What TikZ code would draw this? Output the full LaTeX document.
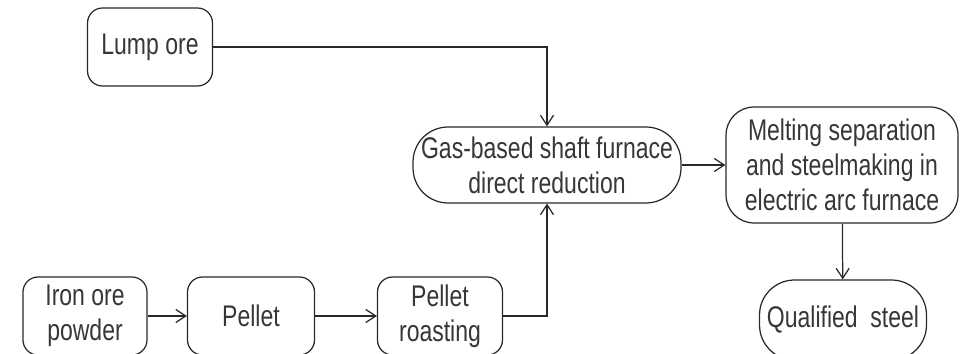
\documentclass[tikz,border=0pt]{standalone}
\usepackage{fontspec}
\setmainfont{Liberation Sans}[FakeStretch=0.77]
\usetikzlibrary{arrows.meta,positioning,calc}
\definecolor{boxline}{RGB}{40,40,40}
\definecolor{boxtext}{RGB}{55,55,55}
\tikzset{
  stage/.style={draw=boxline, fill=white, rounded corners=3mm, line width=0.7pt,
    minimum width=25mm, minimum height=15.6mm, align=center, inner sep=1pt, text=boxtext},
  capsule/.style={stage, rounded corners=7mm},
  flow/.style={-{Straight Barb[length=2mm,width=2.6mm]}, line width=0.7pt, draw=boxline}
}

\begin{document}
\begin{tikzpicture}[x=0.02cm, y=-0.02cm, font=\fontsize{17}{20}\selectfont]
  \clip (0,0) rectangle (964,354);
  \node[stage] (lump) at (150,47) {Lump ore};
  \node[capsule, minimum width=53.6mm, minimum height=15.2mm] (shaft) at (547,165) {Gas-based shaft furnace\\direct reduction};
  \node[stage, rounded corners=5.6mm, minimum width=46.4mm, minimum height=23.2mm] (eaf) at (842,165) {Melting separation\\and steelmaking in\\electric arc furnace};
  \node[capsule, minimum width=33.4mm, minimum height=16mm] (steel) at (843,320) {Qualified~~steel};
  \node[stage, minimum width=24.8mm] (powder) at (85,316) {Iron ore\\powder};
  \node[stage, minimum width=25.4mm] (pellet) at (251,316) {Pellet};
  \node[stage, minimum width=25mm] (roast) at (440,316) {Pellet\\roasting};

  \draw[flow] (lump.east) -| (shaft.north);
  \draw[flow] (powder) -- (pellet);
  \draw[flow] (pellet) -- (roast);
  \draw[flow] (roast.east) -| (shaft.south);
  \draw[flow] (shaft) -- (eaf);
  \draw[flow] (eaf) -- (steel);
\end{tikzpicture}
\end{document}
